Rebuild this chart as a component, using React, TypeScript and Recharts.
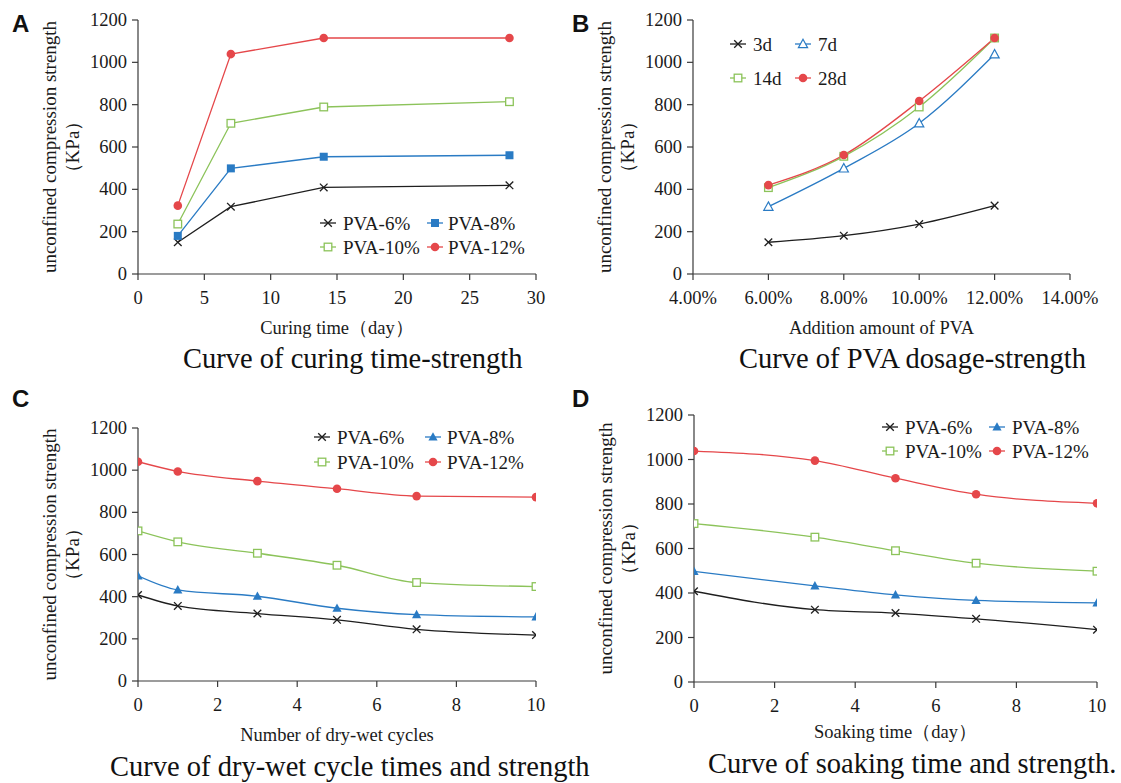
import React from 'react';
import { LineChart, Line, XAxis, YAxis, Label } from 'recharts';

const SERIF = '"Liberation Serif", "Times New Roman", serif';
const SANS = '"Liberation Sans", Arial, sans-serif';
const INK = '#1a1a1a';
const AXIS = '#3a3a3a';

const BLACK = '#1e1e1e';
const BLUE = '#2a7bc4';
const GREEN = '#8cc35a';
const RED = '#e5474a';

const yTicks = [0, 200, 400, 600, 800, 1000, 1200];

// A: curing time vs strength
const curingDays = [3, 7, 14, 28];
const curingPva6 = [150, 318, 409, 419];
const curingPva8 = [180, 499, 554, 561];
const curingPva10 = [236, 712, 789, 814];
const curingPva12 = [323, 1039, 1115, 1115];
const curingTicks = [0, 5, 10, 15, 20, 25, 30];

// B: PVA dosage vs strength
const dosagePct = [6, 8, 10, 12];
const dosage3d = [150, 181, 236, 323];
const dosage7d = [318, 499, 712, 1038];
const dosage14d = [408, 556, 789, 1115];
const dosage28d = [420, 562, 817, 1115];
const dosageTicks = [4, 6, 8, 10, 12, 14];

// C: dry-wet cycles vs strength
const cycleCounts = [0, 1, 3, 5, 7, 10];
const cyclePva6 = [408, 356, 320, 290, 245, 218];
const cyclePva8 = [499, 432, 402, 345, 315, 304];
const cyclePva10 = [712, 660, 606, 549, 467, 448];
const cyclePva12 = [1040, 994, 948, 912, 877, 872];
const cycleTicks = [0, 2, 4, 6, 8, 10];

// D: soaking time vs strength
const soakDays = [0, 3, 5, 7, 10];
const soakPva6 = [408, 325, 310, 284, 235];
const soakPva8 = [497, 432, 392, 367, 356];
const soakPva10 = [712, 651, 590, 534, 498];
const soakPva12 = [1038, 995, 916, 844, 803];
const soakTicks = [0, 2, 4, 6, 8, 10];

const toRows = (xs: number[], cols: Record<string, number[]>) =>
  xs.map((x, i) => {
    const row: Record<string, number> = { x };
    Object.keys(cols).forEach((k) => (row[k] = cols[k][i]));
    return row;
  });

type Shape = 'cross' | 'square' | 'openSquare' | 'circle' | 'triangle' | 'openTriangle';

function Marker({ shape, cx, cy, color }: { shape: Shape; cx: number; cy: number; color: string }) {
  if (cx == null || cy == null) return null;
  const h = 3.8;
  switch (shape) {
    case 'cross':
      return (
        <g stroke={color} strokeWidth={1.3}>
          <line x1={cx - h} y1={cy - h} x2={cx + h} y2={cy + h} />
          <line x1={cx - h} y1={cy + h} x2={cx + h} y2={cy - h} />
        </g>
      );
    case 'square':
      return <rect x={cx - 4} y={cy - 4} width={8} height={8} fill={color} />;
    case 'openSquare':
      return <rect x={cx - 3.8} y={cy - 3.8} width={7.6} height={7.6} fill="#fff" stroke={color} strokeWidth={1.3} />;
    case 'circle':
      return <circle cx={cx} cy={cy} r={4.3} fill={color} />;
    case 'triangle':
      return <polygon points={`${cx},${cy - 4.8} ${cx + 4.6},${cy + 3.6} ${cx - 4.6},${cy + 3.6}`} fill={color} />;
    case 'openTriangle':
      return (
        <polygon
          points={`${cx},${cy - 4.8} ${cx + 4.6},${cy + 3.6} ${cx - 4.6},${cy + 3.6}`}
          fill="#fff"
          stroke={color}
          strokeWidth={1.2}
        />
      );
  }
  return null;
}

interface Series {
  key: string;
  name: string;
  color: string;
  shape: Shape;
}

const pvaSeries = (eightShape: Shape): Series[] => [
  { key: 'p6', name: 'PVA-6%', color: BLACK, shape: 'cross' },
  { key: 'p8', name: 'PVA-8%', color: BLUE, shape: eightShape },
  { key: 'p10', name: 'PVA-10%', color: GREEN, shape: 'openSquare' },
  { key: 'p12', name: 'PVA-12%', color: RED, shape: 'circle' },
];

const daySeries: Series[] = [
  { key: 'd3', name: '3d', color: BLACK, shape: 'cross' },
  { key: 'd7', name: '7d', color: BLUE, shape: 'openTriangle' },
  { key: 'd14', name: '14d', color: GREEN, shape: 'openSquare' },
  { key: 'd28', name: '28d', color: RED, shape: 'circle' },
];

interface PanelCfg {
  letter: string;
  left: number;
  top: number;
  width: number;
  height: number;
  plot: { left: number; right: number; top: number; bottom: number };
  data: Record<string, number>[];
  series: Series[];
  xDomain: [number, number];
  xTicks: number[];
  xFmt: (v: number) => string;
  xLabel: string;
  xLabelDy: number;
  curve: 'linear' | 'monotone';
  title: string;
  titleX: number;
  titleY: number;
  letterY: number;
  legend: { cols: [number, number]; texts: [number, number]; rows: [number, number] };
}

const plain = (v: number) => String(v);

const panels: PanelCfg[] = [
  {
    letter: 'A',
    left: 0,
    top: 0,
    width: 560,
    height: 390,
    plot: { left: 138, right: 536, top: 20, bottom: 274 },
    data: toRows(curingDays, { p6: curingPva6, p8: curingPva8, p10: curingPva10, p12: curingPva12 }),
    series: pvaSeries('square'),
    xDomain: [0, 30],
    xTicks: curingTicks,
    xFmt: plain,
    xLabel: 'Curing time（day）',
    xLabelDy: 54,
    curve: 'linear',
    title: 'Curve of curing time-strength',
    titleX: 183,
    titleY: 368,
    letterY: 32,
    legend: { cols: [328, 435], texts: [343, 448], rows: [223, 247] },
  },
  {
    letter: 'B',
    left: 560,
    top: 0,
    width: 561,
    height: 390,
    plot: { left: 133, right: 510, top: 20, bottom: 274 },
    data: toRows(dosagePct, { d3: dosage3d, d7: dosage7d, d14: dosage14d, d28: dosage28d }),
    series: daySeries,
    xDomain: [4, 14],
    xTicks: dosageTicks,
    xFmt: (v: number) => `${v.toFixed(2)}%`,
    xLabel: 'Addition amount of PVA',
    xLabelDy: 54,
    curve: 'monotone',
    title: 'Curve of PVA dosage-strength',
    titleX: 739,
    titleY: 368,
    letterY: 32,
    legend: { cols: [738, 803], texts: [753, 818], rows: [44, 78] },
  },
  {
    letter: 'C',
    left: 0,
    top: 390,
    width: 560,
    height: 393,
    plot: { left: 138, right: 536, top: 38, bottom: 291 },
    data: toRows(cycleCounts, { p6: cyclePva6, p8: cyclePva8, p10: cyclePva10, p12: cyclePva12 }),
    series: pvaSeries('triangle'),
    xDomain: [0, 10],
    xTicks: cycleTicks,
    xFmt: plain,
    xLabel: 'Number of dry-wet cycles',
    xLabelDy: 54,
    curve: 'monotone',
    title: 'Curve of dry-wet cycle times and strength',
    titleX: 110,
    titleY: 776,
    letterY: 407,
    legend: { cols: [322, 433], texts: [337, 447], rows: [437, 462] },
  },
  {
    letter: 'D',
    left: 560,
    top: 390,
    width: 561,
    height: 393,
    plot: { left: 134, right: 537, top: 25, bottom: 292 },
    data: toRows(soakDays, { p6: soakPva6, p8: soakPva8, p10: soakPva10, p12: soakPva12 }),
    series: pvaSeries('triangle'),
    xDomain: [0, 10],
    xTicks: soakTicks,
    xFmt: plain,
    xLabel: 'Soaking time（day）',
    xLabelDy: 50,
    curve: 'monotone',
    title: 'Curve of soaking time and strength.',
    titleX: 708,
    titleY: 773,
    letterY: 407,
    legend: { cols: [890, 997], texts: [905, 1012], rows: [427, 451] },
  },
];

const Y_AXIS_W = 60;
const X_AXIS_H = 30;
const TICK_FONT = 18.5;

const textStyle = { fontFamily: SERIF };

function Panel({ p }: { p: PanelCfg }) {
  const margin = {
    top: p.plot.top,
    right: p.width - p.plot.right,
    left: p.plot.left - Y_AXIS_W,
    bottom: p.height - p.plot.bottom - X_AXIS_H,
  };
  return (
    <div style={{ position: 'absolute', left: p.left, top: p.top, fontFamily: SERIF, fontSize: TICK_FONT }}>
      <LineChart width={p.width} height={p.height} data={p.data} margin={margin}>
        <XAxis
          type="number"
          dataKey="x"
          domain={p.xDomain}
          ticks={p.xTicks}
          interval={0}
          allowDataOverflow
          height={X_AXIS_H}
          stroke={AXIS}
          strokeWidth={1.2}
          tickSize={6}
          tickMargin={18}
          tick={(t: any) => (
            <text
              x={t.x}
              y={t.y}
              textAnchor="middle"
              dominantBaseline="central"
              fontSize={TICK_FONT}
              fill={INK}
              style={textStyle}
            >
              {p.xFmt(t.payload.value)}
            </text>
          )}
        >
          <Label
            content={(props: any) => {
              const vb = props.viewBox || {};
              return (
                <text
                  x={vb.x + vb.width / 2}
                  y={vb.y + p.xLabelDy}
                  textAnchor="middle"
                  dominantBaseline="central"
                  fontSize={18.5}
                  fill={INK}
                  style={textStyle}
                >
                  {p.xLabel}
                </text>
              );
            }}
          />
        </XAxis>
        <YAxis
          type="number"
          domain={[0, 1200]}
          ticks={yTicks}
          interval={0}
          width={Y_AXIS_W}
          stroke={AXIS}
          strokeWidth={1.2}
          tickSize={6}
          tickMargin={5}
          tick={(t: any) => (
            <text
              x={t.x}
              y={t.y}
              textAnchor="end"
              dominantBaseline="central"
              fontSize={TICK_FONT}
              fill={INK}
              style={textStyle}
            >
              {t.payload.value}
            </text>
          )}
        >
          <Label
            content={(props: any) => {
              const vb = props.viewBox || {};
              const plotLeft = vb.x + vb.width;
              const cy = vb.y + vb.height / 2;
              const x1 = plotLeft - 89;
              const x2 = plotLeft - 66;
              return (
                <g fontSize={19} fill={INK} style={textStyle}>
                  <text x={x1} y={cy} textAnchor="middle" dominantBaseline="central" transform={`rotate(-90 ${x1} ${cy})`}>
                    unconfined compression strength
                  </text>
                  <text x={x2} y={cy} textAnchor="middle" dominantBaseline="central" transform={`rotate(-90 ${x2} ${cy})`}>
                    （KPa）
                  </text>
                </g>
              );
            }}
          />
        </YAxis>
        {p.series.map((s) => (
          <Line
            key={s.key}
            dataKey={s.key}
            name={s.name}
            type={p.curve}
            stroke={s.color}
            strokeWidth={1.3}
            dot={(d: any) => <Marker key={`${s.key}-${d.index}`} shape={s.shape} cx={d.cx} cy={d.cy} color={s.color} />}
            activeDot={false}
            isAnimationActive={false}
          />
        ))}
      </LineChart>
    </div>
  );
}

function Legends() {
  return (
    <g>
      {panels.map((p) =>
        p.series.map((s, i) => {
          const col = i % 2;
          const row = Math.floor(i / 2);
          const cx = p.legend.cols[col];
          const cy = p.legend.rows[row];
          return (
            <g key={`${p.letter}-${s.key}`}>
              <line x1={cx - 8} y1={cy} x2={cx + 8} y2={cy} stroke={s.color} strokeWidth={1.3} />
              <Marker shape={s.shape} cx={cx} cy={cy} color={s.color} />
              <text
                x={p.legend.texts[col]}
                y={cy}
                dominantBaseline="central"
                fontSize={19}
                fill={INK}
                style={textStyle}
              >
                {s.name}
              </text>
            </g>
          );
        })
      )}
    </g>
  );
}

export default function App() {
  return (
    <div style={{ position: 'absolute', left: 0, top: 0, width: 1121, height: 783, background: '#fff', overflow: 'hidden' }}>
      {panels.map((p) => (
        <Panel key={p.letter} p={p} />
      ))}
      <svg width={1121} height={783} style={{ position: 'absolute', left: 0, top: 0, pointerEvents: 'none' }}>
        {panels.map((p) => (
          <g key={p.letter}>
            <text x={p.left + 12} y={p.letterY} fontWeight="bold" fontSize={24} fill="#111" style={{ fontFamily: SANS }}>
              {p.letter}
            </text>
            <text x={p.titleX} y={p.titleY} fontSize={28.5} fill="#111" style={textStyle}>
              {p.title}
            </text>
          </g>
        ))}
        <Legends />
      </svg>
    </div>
  );
}
